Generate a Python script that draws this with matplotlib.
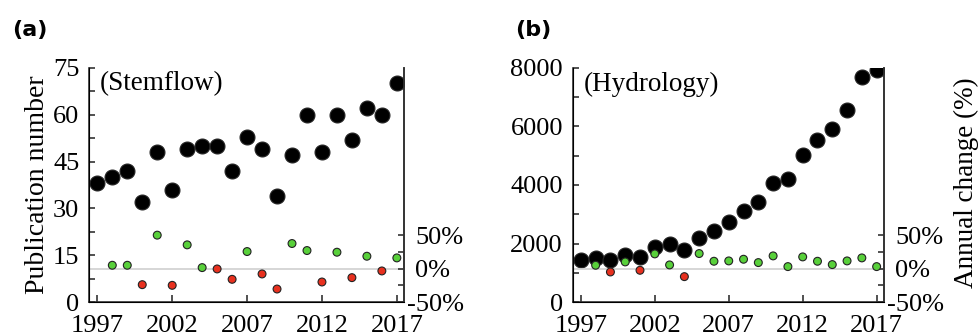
import matplotlib
matplotlib.use("Agg")
from matplotlib import pyplot as plt
from matplotlib.transforms import ScaledTranslation
import numpy as np

years = list(range(1997, 2018))

stemflow_num = [38, 40, 42, 32, 48, 36, 49, 50, 50, 42, 53, 49, 34, 47, 60, 48, 60, 52, 62, 60, 70]
stemflow_chg = [5, 5, -24, 50, -25, 35.5, 1.5, -0.5, -16, 25.5, -8, -30.5, 37.5, 27, -20, 24.5, -13.5, 18.5, -3.5, 16]

hydro_num = [1430, 1520, 1450, 1600, 1550, 1890, 1990, 1770, 2190, 2430, 2730, 3120, 3410,
             4080, 4220, 5020, 5550, 5910, 6570, 7700, 7930]
hydro_chg = [5, -5, 10, -2.5, 22, 5.5, -12, 22.5, 11, 11.5, 14, 9, 19, 3, 17.5, 11, 6, 11.5, 16, 3]

chg_ticks = [-50, 0, 50]
chg_labels = ["-50%", "0%", "50%"]

plt.rcParams["font.family"] = ["Liberation Serif", "DejaVu Serif"]
plt.rcParams["font.size"] = 19

GREEN = "#58d03a"
RED = "#e8301e"
SPINE = "#333333"

fig = plt.figure(figsize=(9.79, 3.36), dpi=100)


def panel(pos, nums, chgs, ymax, ystep, name, letter, letter_x):
    ax = fig.add_axes(pos)
    ax.scatter(years, nums, s=115, color="black", edgecolors="#222222", linewidths=0.8, zorder=4)
    ax.set_xlim(1996.45, 2017.5)
    ax.set_ylim(0, ymax)
    ax.set_xticks(range(1997, 2018, 5))
    ax.set_yticks(np.arange(0, ymax + 1, ystep))
    ax.set_yticks(np.arange(ystep / 2, ymax, ystep), minor=True)
    ax.tick_params(axis="both", which="both", direction="in", length=4, width=1.2, color=SPINE)
    ax.tick_params(axis="y", pad=7)
    ax.tick_params(axis="x", length=5, pad=9)
    ax.spines["top"].set_visible(False)
    for s in ["left", "bottom", "right"]:
        ax.spines[s].set_color(SPINE)
        ax.spines[s].set_linewidth(1.2)
    ax.text(0.035, 0.985, name, transform=ax.transAxes, ha="left", va="top", fontsize=19.5)

    ax2 = ax.twinx()
    ax2.set_ylim(-50, 300)
    ax2.axhline(0, color="#d0d0d0", lw=1.2, zorder=1)
    cols = [GREEN if c > 0 else RED for c in chgs]
    ax2.scatter(years[1:], chgs, s=32, c=cols, edgecolors="#222222", linewidths=0.8, zorder=5)
    ax2.set_yticks(chg_ticks)
    ax2.set_yticklabels(chg_labels)
    ax2.set_yticks([-25, 25], minor=True)
    ax2.tick_params(axis="y", which="both", direction="in", length=4, width=1.2, color=SPINE, pad=8)
    # let the minus sign hang left of the digits
    lab = ax2.yaxis.get_major_ticks()[0].label2
    lab.set_transform(lab.get_transform() + ScaledTranslation(-0.085, 0, fig.dpi_scale_trans))
    ax2.spines["top"].set_visible(False)
    ax2.spines["right"].set_color(SPINE)
    ax2.spines["right"].set_linewidth(1.2)
    ax2.set_zorder(ax.get_zorder() + 1)
    ax2.patch.set_visible(False)

    fig.text(letter_x, 0.91, letter, fontfamily="DejaVu Sans", fontweight="bold", fontsize=16,
             ha="left", va="center")
    return ax


ax_a = panel([0.091, 0.101, 0.322, 0.697], stemflow_num, stemflow_chg, 75, 15,
             "(Stemflow)", "(a)", 0.012)
ax_a.set_ylabel("Publication number", fontsize=20, labelpad=2)

ax_b = panel([0.585, 0.101, 0.318, 0.697], hydro_num, hydro_chg, 8000, 2000,
             "(Hydrology)", "(b)", 0.526)
fig.text(0.987, 0.455, "Annual change (%)", fontsize=19.5, rotation=90, ha="center", va="center")

plt.savefig("out.png", dpi=100)
